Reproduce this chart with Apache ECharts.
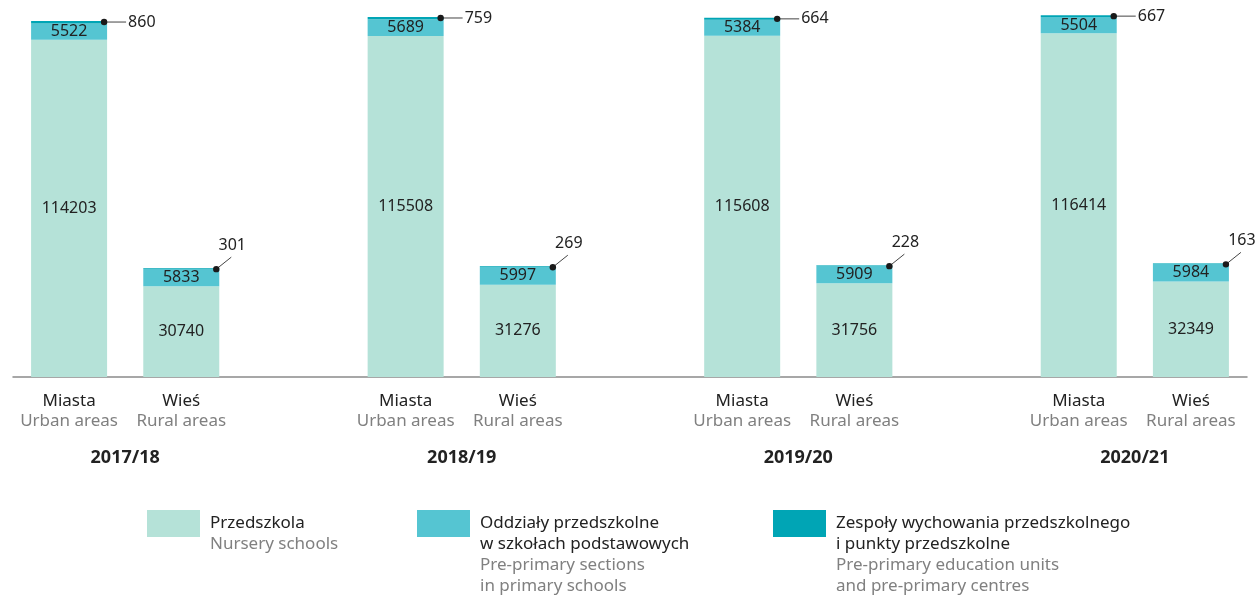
<!DOCTYPE html>
<html>
<head>
<meta charset="utf-8">
<script src="https://cdn.jsdelivr.net/npm/echarts@6/dist/echarts.min.js"></script>
<style>
  html, body { margin: 0; padding: 0; background: #fff; }
  #main { width: 1256px; height: 596px; }
</style>
</head>
<body>
<div id="main"></div>
<script>
// school years (one group = Miasta + Wieś)
const years = ['2017/18', '2018/19', '2019/20', '2020/21']
const areaPl = ['Miasta', 'Wieś']
const areaEn = ['Urban areas', 'Rural areas']

// Przedszkola / Nursery schools
const nurseryUrban = [114203, 115508, 115608, 116414]
const nurseryRural = [30740, 31276, 31756, 32349]
// Oddziały przedszkolne w szkołach podstawowych
const sectionsUrban = [5522, 5689, 5384, 5504]
const sectionsRural = [5833, 5997, 5909, 5984]
// Zespoły wychowania przedszkolnego i punkty przedszkolne
const unitsUrban = [860, 759, 664, 667]
const unitsRural = [301, 269, 228, 163]

const FONT = 'Noto Sans'
const DARK = '#222222'
const GREY = '#808080'
const C_NURSERY = '#b5e2d8'
const C_SECTIONS = '#55c5d2'
const C_UNITS = '#00a5b5'
const BAR_W = 76

// slots on the x axis: Miasta, Wieś, gap, Miasta, Wieś, gap ...
const slots = []
const slotArea = []
years.forEach((y, i) => {
  slots.push('m' + i, 'w' + i)
  slotArea.push(0, 1)
  if (i < years.length - 1) {
    slots.push('gap' + i)
    slotArea.push(-1)
  }
})

function spread(urban, rural) {
  const out = []
  years.forEach((y, i) => {
    out.push(urban[i], rural[i])
    if (i < years.length - 1) out.push('-')
  })
  return out
}

const nurseryData = spread(nurseryUrban, nurseryRural)
const sectionsData = spread(sectionsUrban, sectionsRural)
const unitsData = spread(unitsUrban, unitsRural)

// leader labels for the thin top segment
const leaderData = []
slots.forEach((s, i) => {
  if (slotArea[i] < 0) return
  const total = nurseryData[i] + sectionsData[i] + unitsData[i]
  leaderData.push([i, total, unitsData[i], slotArea[i]])
})

// year labels, placed under the middle of each group
const yearData = years.map((y, i) => [i * 3, 0, y])

const chartDom = document.getElementById('main')
const myChart = echarts.init(chartDom)

const legendItems = [
  { x: 147, color: C_NURSERY, pl: ['Przedszkola'], en: ['Nursery schools'] },
  { x: 417, color: C_SECTIONS, pl: ['Oddziały przedszkolne', 'w szkołach podstawowych'], en: ['Pre-primary sections', 'in primary schools'] },
  { x: 773, color: C_UNITS, pl: ['Zespoły wychowania przedszkolnego', 'i punkty przedszkolne'], en: ['Pre-primary education units', 'and pre-primary centres'] }
]

const legendGraphics = []
legendItems.forEach(item => {
  legendGraphics.push({
    type: 'rect',
    left: item.x,
    top: 510,
    shape: { width: 53, height: 27 },
    style: { fill: item.color }
  })
  legendGraphics.push({
    type: 'text',
    left: item.x + 63,
    top: 515,
    style: {
      text: item.pl.map(t => '{pl|' + t + '}').concat(item.en.map(t => '{en|' + t + '}')).join('\n'),
      rich: {
        pl: { fontFamily: FONT, fontSize: 17, lineHeight: 21, fill: DARK },
        en: { fontFamily: FONT, fontSize: 17, lineHeight: 21, fill: GREY }
      }
    }
  })
})

const option = {
  animation: false,
  textStyle: { fontFamily: FONT },
  grid: {
    left: 13,
    right: 9,
    top: 8,
    bottom: 219
  },
  xAxis: {
    type: 'category',
    data: slots,
    axisLine: { lineStyle: { color: '#8a8a8a', width: 1.5 } },
    axisTick: { show: false },
    axisLabel: {
      interval: 0,
      margin: 14,
      formatter: (v, idx) => {
        const a = slotArea[idx]
        if (a < 0) return ''
        return '{pl|' + areaPl[a] + '}\n{en|' + areaEn[a] + '}'
      },
      rich: {
        pl: { fontFamily: FONT, fontSize: 17, lineHeight: 20, color: DARK },
        en: { fontFamily: FONT, fontSize: 17, lineHeight: 20, color: GREY }
      }
    }
  },
  yAxis: {
    type: 'value',
    min: 0,
    max: 125000,
    show: false,
    splitLine: { show: false }
  },
  series: [
    {
      name: 'Przedszkola',
      type: 'bar',
      stack: 'total',
      barWidth: BAR_W,
      data: nurseryData,
      itemStyle: { color: C_NURSERY },
      label: { show: true, position: 'inside', color: DARK, fontFamily: FONT, fontSize: 16 }
    },
    {
      name: 'Oddziały przedszkolne',
      type: 'bar',
      stack: 'total',
      barWidth: BAR_W,
      data: sectionsData,
      itemStyle: { color: C_SECTIONS },
      label: { show: true, position: 'inside', color: DARK, fontFamily: FONT, fontSize: 16 }
    },
    {
      name: 'Zespoły wychowania przedszkolnego',
      type: 'bar',
      stack: 'total',
      barWidth: BAR_W,
      data: unitsData,
      itemStyle: { color: C_UNITS }
    },
    {
      type: 'custom',
      data: leaderData,
      encode: { x: 0, y: 1 },
      z: 10,
      renderItem: (params, api) => {
        const p = api.coord([api.value(0), api.value(1)])
        const dx = p[0] + BAR_W / 2 - 3
        const dy = p[1] + 1
        const urban = api.value(3) === 0
        const end = urban ? [dx + 22, dy] : [dx + 15, dy - 12]
        return {
          type: 'group',
          children: [
            {
              type: 'line',
              shape: { x1: dx, y1: dy, x2: end[0], y2: end[1] },
              style: { stroke: '#444', lineWidth: 1 }
            },
            {
              type: 'circle',
              shape: { cx: dx, cy: dy, r: 3.2 },
              style: { fill: '#1a1a1a' }
            },
            {
              type: 'text',
              x: urban ? end[0] + 2 : end[0] + 1,
              y: urban ? end[1] : end[1] - 12,
              style: {
                text: String(api.value(2)),
                fontFamily: FONT,
                fontSize: 16,
                fill: DARK,
                align: urban ? 'left' : 'center',
                verticalAlign: 'middle'
              }
            }
          ]
        }
      }
    },
    {
      type: 'custom',
      data: yearData,
      encode: { x: 0, y: 1 },
      renderItem: (params, api) => {
        const a = api.coord([api.value(0), 0])
        const b = api.coord([api.value(0) + 1, 0])
        return {
          type: 'text',
          x: (a[0] + b[0]) / 2,
          y: a[1] + 81,
          style: {
            text: yearData[params.dataIndex][2],
            fontFamily: FONT,
            fontSize: 18,
            fontWeight: 'bold',
            fill: DARK,
            align: 'center',
            verticalAlign: 'middle'
          }
        }
      }
    }
  ],
  graphic: legendGraphics
}

option && myChart.setOption(option)
</script>
</body>
</html>
